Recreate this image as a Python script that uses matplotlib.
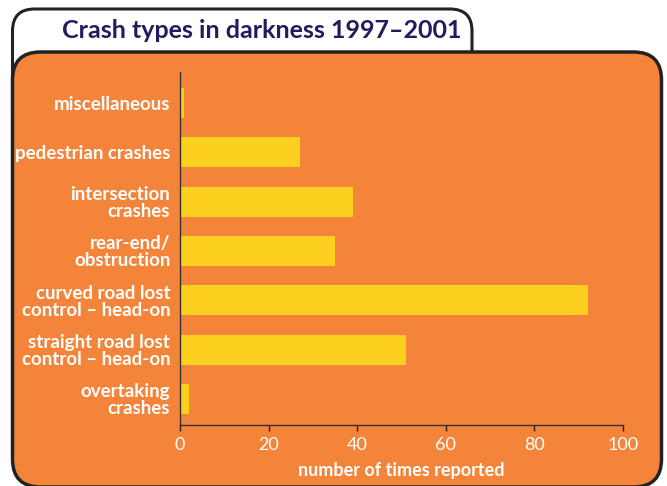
import matplotlib
matplotlib.use("Agg")
import matplotlib.pyplot as plt
from matplotlib.patches import FancyBboxPatch
from matplotlib.transforms import IdentityTransform, Bbox

categories = ["overtaking\ncrashes", "straight road lost\ncontrol – head-on",
              "curved road lost\ncontrol – head-on", "rear-end/\nobstruction",
              "intersection\ncrashes", "pedestrian crashes", "miscellaneous"]
values = [2, 51, 92, 35, 39, 27, 1]
xticks = [0, 20, 40, 60, 80, 100]
title = "Crash types in darkness 1997–2001"
xlabel = "number of times reported"

ORANGE = "#F4843A"
YELLOW = "#FDD020"
DARK = "#222222"
NAVY = "#211C5E"

plt.rcParams['font.family'] = ['Lato', 'DejaVu Sans']

W, H = 667, 486
fig = plt.figure(figsize=(W/100, H/100), dpi=100)
fig.patch.set_facecolor("white")

tab = FancyBboxPatch((12.5, -300), 459.5, H - 9 + 300,
                     boxstyle="round,pad=0,rounding_size=22",
                     transform=IdentityTransform(), facecolor="white",
                     edgecolor=DARK, linewidth=2.2, zorder=0)
tab.set_clip_box(Bbox([[0, H - 110], [W, H]]))
tab.set_clip_on(True)
fig.patches.append(tab)
panel = FancyBboxPatch((12.5, -1), 649, H - 52 + 1,
                       boxstyle="round,pad=0,rounding_size=28",
                       transform=IdentityTransform(), facecolor=ORANGE,
                       edgecolor=DARK, linewidth=2.5, zorder=0.5)
fig.patches.append(panel)

fig.text(62/W, 1 - 31/H, title, color=NAVY, fontsize=18, fontweight="bold",
         ha="left", va="center")

ax = fig.add_axes([180/W, 1 - 425/H, (623-180)/W, (425-72)/H])
ax.set_zorder(2)
ax.patch.set_visible(False)
ypos = list(range(len(categories)))
ax.barh(ypos, values, height=0.61, color=YELLOW, edgecolor="none")
ax.set_yticks(ypos)
ax.set_yticklabels(categories, color="white", fontsize=13.5, fontweight="bold",
                   linespacing=1.0)
ax.tick_params(axis="y", length=0, pad=7)
ax.set_xlim(0, 100)
ax.set_ylim(-0.53, 6.63)
ax.set_xticks(xticks)
ax.set_xticklabels([str(t) for t in xticks], color="white", fontsize=13)
ax.tick_params(axis="x", colors=DARK, labelcolor="white", length=4, width=1, pad=5)
for s in ["top", "right"]:
    ax.spines[s].set_visible(False)
for s in ["left", "bottom"]:
    ax.spines[s].set_color("#333333")
    ax.spines[s].set_linewidth(1)
ax.set_xlabel(xlabel, color="white", fontsize=13, fontweight="bold", labelpad=6)

fig.savefig("out.png", dpi=100, facecolor="white")
